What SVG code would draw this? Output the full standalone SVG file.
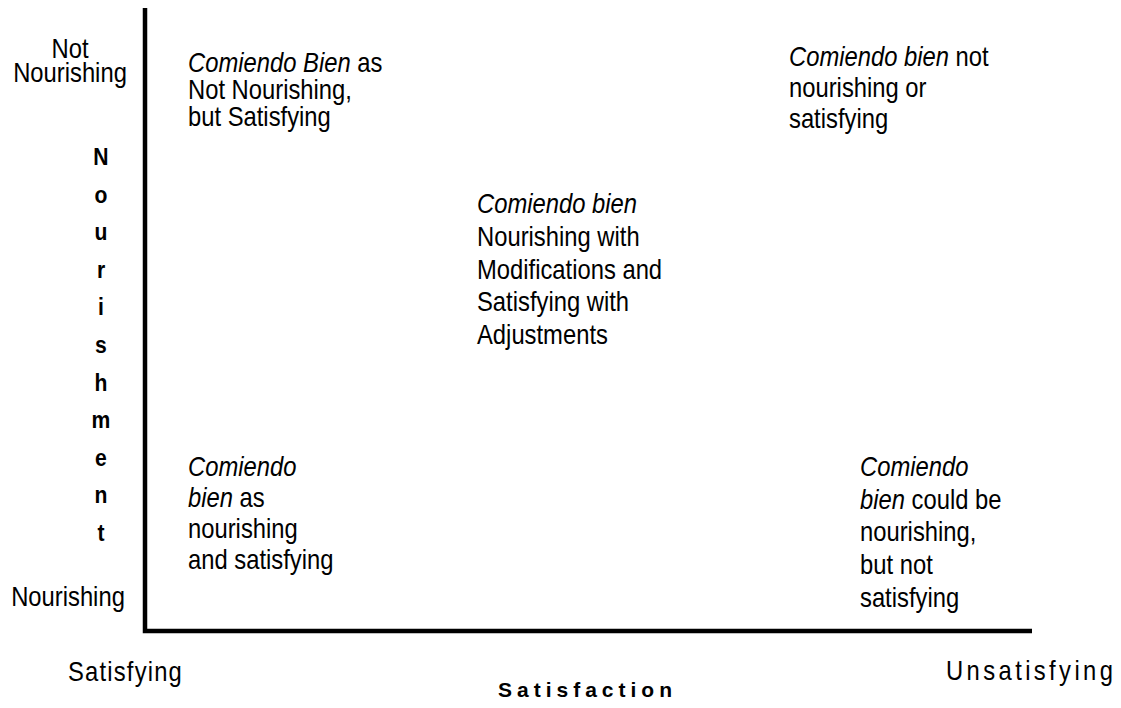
<svg xmlns="http://www.w3.org/2000/svg" width="1121" height="708" viewBox="0 0 1121 708">
  <style>
    /* condensed sans: Liberation Sans squeezed horizontally by the group transforms */
    .t { font-family: "Liberation Sans", Arial, sans-serif; font-size: 28px; fill: #000; }
    .i { font-style: italic; }
    .c { text-anchor: middle; }
    .vb { font-family: "Liberation Sans", Arial, sans-serif; font-size: 23px; font-weight: bold; fill: #000; text-anchor: middle; }
    .axis { fill: none; stroke: #000; stroke-width: 4.5; stroke-linejoin: miter; }
  </style>
  <rect width="1121" height="708" fill="#fff"/>

  <g id="axes">
    <path class="axis" d="M145,8 V631 H1032"/>
  </g>

  <g id="y-axis-labels">
    <g transform="translate(70 0) scale(0.85 1)">
      <text class="t c" x="0" y="58">Not</text>
      <text class="t c" x="0" y="82">Nourishing</text>
    </g>
    <g transform="translate(68 0) scale(0.85 1)">
      <text class="t c" x="0" y="606">Nourishing</text>
    </g>
    <g id="y-title" transform="translate(101 0) scale(0.92 1)">
      <text class="vb" x="0" y="165">N</text>
      <text class="vb" x="0" y="202.6">o</text>
      <text class="vb" x="0" y="240.2">u</text>
      <text class="vb" x="0" y="277.8">r</text>
      <text class="vb" x="0" y="315.4">i</text>
      <text class="vb" x="0" y="353">s</text>
      <text class="vb" x="0" y="390.6">h</text>
      <text class="vb" x="0" y="428.2">m</text>
      <text class="vb" x="0" y="465.8">e</text>
      <text class="vb" x="0" y="503.4">n</text>
      <text class="vb" x="0" y="541">t</text>
    </g>
  </g>

  <g id="x-axis-labels">
    <g transform="translate(68 0) scale(0.85 1)">
      <text class="t" x="0" y="681" style="letter-spacing:1.4px">Satisfying</text>
    </g>
    <g transform="translate(946 0) scale(0.85 1)">
      <text class="t" x="0" y="680" style="letter-spacing:4px">Unsatisfying</text>
    </g>
    <text x="498" y="697" style="font-family:'Liberation Sans',Arial,sans-serif;font-size:21px;font-weight:bold;letter-spacing:5px">Satisfaction</text>
  </g>

  <g id="q-top-left" transform="translate(188 0) scale(0.85 1)">
    <text class="t" x="0" y="72"><tspan class="i">Comiendo Bien</tspan> as</text>
    <text class="t" x="0" y="99">Not Nourishing,</text>
    <text class="t" x="0" y="126">but Satisfying</text>
  </g>

  <g id="q-top-right" transform="translate(789 0) scale(0.85 1)">
    <text class="t" x="0" y="66"><tspan class="i">Comiendo bien</tspan> not</text>
    <text class="t" x="0" y="97">nourishing or</text>
    <text class="t" x="0" y="128">satisfying</text>
  </g>

  <g id="q-center" transform="translate(477 0) scale(0.85 1)">
    <text class="t" x="0" y="213"><tspan class="i">Comiendo bien</tspan></text>
    <text class="t" x="0" y="246">Nourishing with</text>
    <text class="t" x="0" y="279">Modifications and</text>
    <text class="t" x="0" y="311">Satisfying with</text>
    <text class="t" x="0" y="344">Adjustments</text>
  </g>

  <g id="q-bottom-left" transform="translate(188 0) scale(0.85 1)">
    <text class="t" x="0" y="476"><tspan class="i">Comiendo</tspan></text>
    <text class="t" x="0" y="507"><tspan class="i">bien</tspan> as</text>
    <text class="t" x="0" y="538">nourishing</text>
    <text class="t" x="0" y="569">and satisfying</text>
  </g>

  <g id="q-bottom-right" transform="translate(860 0) scale(0.85 1)">
    <text class="t" x="0" y="476"><tspan class="i">Comiendo</tspan></text>
    <text class="t" x="0" y="509"><tspan class="i">bien</tspan> could be</text>
    <text class="t" x="0" y="541">nourishing,</text>
    <text class="t" x="0" y="574">but not</text>
    <text class="t" x="0" y="607">satisfying</text>
  </g>
</svg>
